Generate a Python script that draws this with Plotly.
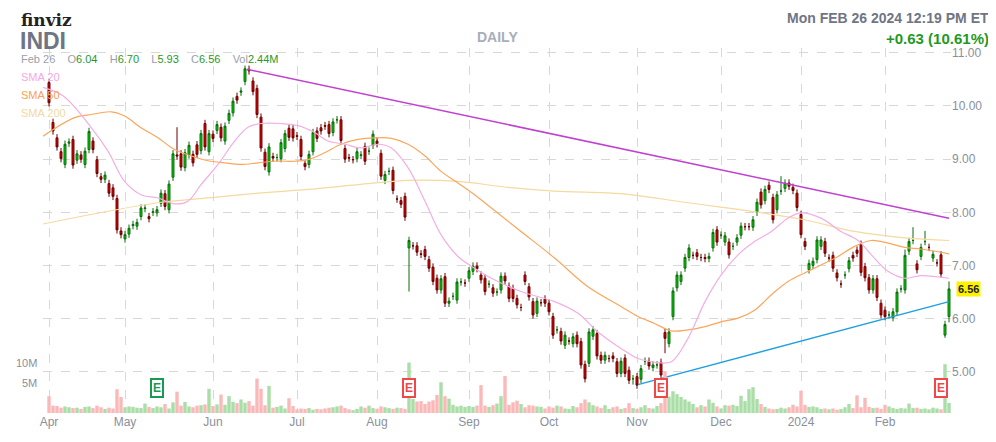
import plotly.graph_objects as go

# trading days per month, Apr 2023 .. Feb 26 2024
months = ["Apr", "May", "Jun", "Jul", "Aug", "Sep", "Oct", "Nov", "Dec", "2024", "Feb"]
month_days = [19, 22, 21, 20, 23, 20, 22, 21, 20, 21, 17]

opens = [
    10.44, 9.69, 9.40, 9.14, 8.90, 9.30, 9.37, 8.98, 9.08, 8.90, 9.18, 9.34, 8.99, 8.67, 8.62, 8.54, 8.46, 8.26, 7.65,
    7.50, 7.59, 7.75, 7.74, 7.92, 8.07, 7.92, 8.00, 7.99, 8.17, 8.35, 8.05, 8.66, 9.08, 9.10, 8.84, 9.08, 9.09, 9.27, 9.16, 9.67, 9.14,
    9.47, 9.54, 9.60, 9.34, 9.73, 9.87, 10.18, 10.26, 10.46, 10.69, 10.47, 10.33, 9.79, 9.13, 8.76, 9.05, 9.03, 9.01, 9.20, 9.58, 9.57,
    9.44, 9.37, 8.92, 8.90, 9.14, 9.53, 9.59, 9.63, 9.65, 9.50, 9.74, 9.74, 9.20, 9.03, 8.99, 9.01, 9.07, 9.24, 9.15, 9.26,
    9.34, 9.11, 8.60, 8.77, 8.79, 8.25, 8.22, 8.30, 7.33, 7.37, 7.37, 7.22, 7.30, 7.11, 6.97, 6.76, 6.54, 6.79, 6.29, 6.42, 6.35, 6.69, 6.67,
    6.76, 6.89, 6.99, 6.82, 6.76, 6.65, 6.58, 6.50, 6.54, 6.80, 6.61, 6.57, 6.38, 6.21, 6.82, 6.60, 6.32, 6.10, 6.30, 6.37,
    6.29, 6.04, 5.79, 5.76, 5.50, 5.58, 5.53, 5.69, 5.57, 5.14, 5.16, 5.67, 5.72, 5.31, 5.22, 5.25, 5.30, 5.19, 4.97, 5.26, 5.03, 4.87,
    4.91, 4.86, 5.20, 5.20, 5.08, 5.13, 5.18, 5.74, 5.53, 6.04, 6.58, 6.70, 6.95, 7.15, 7.19, 7.24, 7.15, 7.15, 7.13, 7.33, 7.67,
    7.57, 7.44, 7.44, 7.36, 7.44, 7.57, 7.73, 7.73, 7.72, 8.00, 8.38, 8.22, 8.51, 8.28, 8.05, 8.40, 8.45, 8.55, 8.47, 8.36,
    7.96, 7.45, 6.92, 7.00, 7.11, 7.36, 7.45, 7.14, 7.19, 6.86, 6.65, 6.82, 6.94, 7.19, 7.29, 7.40, 6.98, 6.77, 6.54, 6.75, 6.29,
    6.16, 6.07, 6.02, 6.13, 6.56, 6.54, 7.27, 7.47, 7.03, 7.17, 7.45, 7.34, 7.14, 7.05, 7.20, 5.69, 6.04,
]
closes = [
    10.06, 9.53, 9.23, 9.01, 9.28, 9.32, 8.89, 9.10, 9.00, 9.15, 9.52, 9.18, 8.73, 8.62, 8.70, 8.36, 8.30, 7.67, 7.58,
    7.58, 7.70, 7.77, 7.81, 8.08, 8.08, 7.88, 8.01, 8.05, 8.36, 8.11, 8.53, 9.10, 9.06, 8.85, 9.12, 9.26, 8.93, 9.09, 9.48, 9.23, 9.48,
    9.39, 9.65, 9.40, 9.62, 9.86, 10.09, 10.11, 10.28, 10.70, 10.66, 10.27, 9.84, 9.21, 8.86, 9.23, 9.02, 9.03, 9.31, 9.48, 9.41, 9.40,
    9.43, 9.05, 8.86, 9.09, 9.50, 9.39, 9.53, 9.62, 9.48, 9.70, 9.74, 9.35, 9.00, 9.02, 8.99, 9.14, 9.08, 8.96, 9.15, 9.47,
    9.29, 8.68, 8.71, 8.77, 8.41, 8.25, 8.15, 7.91, 7.47, 7.37, 7.25, 7.21, 7.17, 6.95, 6.70, 6.54, 6.75, 6.29, 6.33, 6.42, 6.69, 6.69, 6.67,
    6.90, 6.99, 6.94, 6.73, 6.51, 6.65, 6.48, 6.50, 6.80, 6.71, 6.38, 6.38, 6.26, 6.21, 6.70, 6.41, 6.07, 6.33, 6.30, 6.29,
    6.13, 5.69, 5.79, 5.58, 5.69, 5.58, 5.66, 5.53, 5.13, 4.87, 5.75, 5.79, 5.30, 5.22, 5.31, 5.25, 5.25, 4.97, 5.20, 4.97, 4.84, 4.87,
    4.75, 5.06, 5.20, 5.11, 5.13, 5.13, 4.94, 5.63, 5.75, 6.52, 6.82, 6.82, 7.15, 7.33, 7.19, 7.17, 7.15, 7.13, 7.17, 7.62, 7.44,
    7.57, 7.56, 7.20, 7.36, 7.52, 7.74, 7.73, 7.73, 7.86, 8.19, 8.14, 8.43, 8.43, 7.86, 8.33, 8.40, 8.55, 8.49, 8.41, 8.09,
    7.58, 7.36, 7.04, 7.08, 7.48, 7.48, 7.23, 7.14, 6.95, 6.77, 6.65, 6.82, 7.09, 7.14, 7.23, 6.87, 6.77, 6.54, 6.75, 6.40, 6.07,
    6.04, 6.07, 6.13, 6.50, 6.56, 7.19, 7.45, 7.47, 6.92, 7.34, 7.45, 7.34, 7.21, 7.05, 6.84, 5.89, 6.56,
]
# notable wick extremes (index: value)
high_extra = {32: 9.60, 49: 10.76, 183: 8.68, 225: 6.70, 214: 7.30, 216: 7.72, 219: 7.65}
low_extra = {90: 6.51, 154: 5.35, 224: 5.64, 225: 5.93, 134: 4.80, 146: 4.76}

volumes = [
    4.1, 1.8, 1.7, 1.3, 1.6, 1.4, 1.2, 1.3, 1.0, 1.5, 1.6, 1.2, 1.8, 1.4, 1.0, 1.3, 1.1, 5.8, 3.9,
    1.4, 1.6, 1.5, 1.3, 1.2, 2.3, 1.5, 1.2, 1.6, 1.4, 2.2, 1.1, 2.6, 5.2, 1.8, 2.7, 1.6, 1.4, 1.8, 1.9, 2.1, 5.9,
    1.7, 2.1, 4.5, 2.0, 4.1, 2.7, 2.4, 3.3, 2.5, 2.9, 1.8, 8.4, 5.9, 1.9, 6.6, 1.3, 1.5, 1.8, 1.1, 3.6, 1.7,
    0.9, 1.1, 1.0, 1.2, 0.8, 1.0, 0.9, 1.1, 1.3, 1.4, 1.6, 1.8, 1.2, 0.9, 0.7, 1.0, 1.6, 1.3, 1.8, 1.2,
    1.0, 1.6, 1.4, 1.2, 1.0, 1.3, 1.2, 1.0, 12.3, 3.4, 2.8, 2.9, 2.2, 2.8, 3.1, 4.4, 7.5, 4.1, 3.5, 2.0, 1.6, 1.8, 1.5,
    1.7, 1.5, 1.8, 6.8, 1.8, 1.5, 1.9, 2.3, 4.1, 9.0, 2.0, 2.6, 3.0, 2.2, 1.4, 1.9, 1.8, 1.6, 1.5, 1.1,
    1.6, 1.3, 1.8, 1.6, 1.1, 1.0, 1.7, 1.4, 2.4, 3.3, 2.6, 1.9, 1.6, 1.2, 1.9, 1.0, 1.4, 1.6, 1.0, 1.2, 2.4, 1.2,
    1.0, 1.4, 1.9, 1.2, 1.1, 1.7, 2.4, 10.2, 4.0, 5.3, 4.6, 3.9, 3.3, 2.8, 2.2, 1.4, 1.9, 1.6, 3.3, 2.5, 1.6,
    1.1, 1.9, 1.8, 2.0, 1.7, 4.2, 2.9, 5.8, 6.3, 3.4, 2.2, 1.5, 1.1, 0.9, 1.0, 1.3, 1.1, 1.4, 2.0, 1.6,
    5.4, 2.0, 1.5, 1.6, 1.4, 1.0, 1.1, 0.9, 1.1, 0.8, 1.0, 1.4, 2.2, 1.2, 4.3, 1.4, 3.7, 1.5, 1.2, 1.3, 1.0,
    2.0, 1.6, 1.2, 1.0, 1.2, 1.1, 2.3, 1.2, 1.3, 1.0, 1.1, 0.9, 1.3, 1.1, 0.9, 11.9, 2.44,
]

# moving averages: (day index, value)
sma20 = [(-1.5, 10.35), (3.5, 10.19), (10.6, 9.59), (14.75, 9.15), (18.9, 8.58), (23, 8.33), (27.25, 8.27),
         (31.4, 8.16), (34.75, 8.21), (38, 8.52), (42.25, 8.90), (46.4, 9.34), (49.75, 9.60), (53, 9.67),
         (58, 9.67), (62.25, 9.63), (66.4, 9.50), (69.75, 9.34), (74, 9.28), (78, 9.21), (82.25, 9.28),
         (85.6, 9.21), (89.75, 8.84), (94, 8.21), (98, 7.58), (102.25, 7.17), (106.4, 6.95), (110.6, 6.76),
         (118, 6.51), (126.4, 6.32), (132.25, 6.10), (137.25, 5.75), (143, 5.44), (147.25, 5.25),
         (151.4, 5.18), (155.6, 5.19), (159.75, 5.63), (164, 6.32), (168, 6.82), (172.25, 7.20),
         (176.4, 7.45), (180.6, 7.64), (184.75, 7.89), (188, 7.99), (193, 7.89), (198, 7.64),
         (202.25, 7.47), (205.6, 7.20), (209.75, 6.89), (214, 6.76), (218, 6.81), (225, 6.76)]
sma50 = [(-1.5, 9.43), (6.4, 9.78), (10.6, 9.84), (15.6, 9.89), (18.9, 9.81), (23, 9.59), (27.25, 9.40),
         (31.4, 9.18), (35.6, 9.06), (39.75, 8.97), (43.9, 8.93), (48, 8.90), (52.25, 8.93), (56.4, 8.96),
         (61.4, 8.96), (64.75, 8.99), (68.9, 9.12), (73, 9.28), (77.25, 9.37), (81.4, 9.40), (85.6, 9.39),
         (89.75, 9.28), (94, 9.06), (98, 8.77), (102.25, 8.55), (106.4, 8.33), (110.6, 8.08),
         (118, 7.64), (126.4, 7.14), (134.75, 6.60), (143, 6.23), (147.25, 6.04), (151.4, 5.91),
         (155.6, 5.77), (159.75, 5.79), (164, 5.85), (168, 5.94), (172.25, 6.01), (176.4, 6.16),
         (180.6, 6.45), (184.75, 6.70), (188.9, 6.86), (193, 7.01), (197.25, 7.17), (201.4, 7.36),
         (205.6, 7.47), (209.75, 7.42), (214, 7.34), (218, 7.31), (225, 7.22)]
sma200 = [(-1.5, 7.78), (14.75, 8.02), (27.25, 8.18), (39.75, 8.27), (52.25, 8.36), (64.75, 8.43),
          (77.25, 8.52), (89.75, 8.60), (102.25, 8.58), (114.75, 8.47), (126.4, 8.40), (143, 8.35),
          (151.4, 8.27), (159.75, 8.18), (176.4, 8.01), (188.9, 7.86), (201.4, 7.64), (214, 7.52),
          (225, 7.47)]
resistance = [(49.5, 10.69), (225, 7.89)]
support = [(147.25, 4.76), (225, 6.32)]
earnings = [(27, "beat"), (90, "miss"), (153, "miss"), (223, "miss")]

n = len(closes)
x = list(range(n))
highs = [high_extra.get(i, max(opens[i], closes[i]) + 0.07) for i in x]
lows = [low_extra.get(i, min(opens[i], closes[i]) - 0.07) for i in x]
month_start = [sum(month_days[:k]) for k in range(len(month_days))]

GREEN, RED = "#00d200", "#e00000"
fig = go.Figure()

vol_colors = ["#a9dea6" if closes[i] >= opens[i] else "#fab8b8" for i in x]
fig.add_trace(go.Bar(x=x, y=volumes, marker_color=vol_colors, marker_line_width=0,
                     width=0.85, yaxis="y2", hoverinfo="skip"))

for pts, col in [(sma200, "#f5d9a0"), (sma50, "#fca65c"), (sma20, "#f3aee4")]:
    fig.add_trace(go.Scatter(x=[p[0] for p in pts], y=[p[1] for p in pts], mode="lines",
                             line=dict(color=col, width=1.2, shape="spline"), hoverinfo="skip"))

for pts, col in [(resistance, "#c040d0"), (support, "#1ea0e0")]:
    fig.add_trace(go.Scatter(x=[p[0] for p in pts], y=[p[1] for p in pts], mode="lines",
                             line=dict(color=col, width=1.5), hoverinfo="skip"))

fig.add_trace(go.Candlestick(
    x=x, open=opens, high=highs, low=lows, close=closes, whiskerwidth=0,
    increasing=dict(fillcolor=GREEN, line=dict(color="#0a6b0a", width=1)),
    decreasing=dict(fillcolor=RED, line=dict(color="#6e0000", width=1)),
))

ann = []
for i, kind in earnings:
    c = "#1a9a50" if kind == "beat" else "#f04848"
    ann.append(dict(x=i, y=6, xref="x", yref="y2", text="<b>E</b>", showarrow=False,
                    font=dict(size=12, color=c, family="Arial"), bgcolor="white",
                    bordercolor=c, borderwidth=2, borderpad=1, yanchor="middle"))

grey = "#8a8f9c"


def top_text(xpos, xshift, yshift, text, size, color, anchor="left", family="Arial"):
    return dict(x=xpos, y=1.0, xref="paper", yref="paper", xshift=xshift, yshift=yshift, text=text,
                showarrow=False, xanchor=anchor, yanchor="middle",
                font=dict(size=size, color=color, family=family))


ann += [
    top_text(0, -24, 28, "<b>finviz</b>", 17, "#222", family="DejaVu Serif"),
    top_text(0, -25, 7, "<b>INDI</b>", 23, "#6f7585"),
    top_text(0.5, 0, 11, "<b>DAILY</b>", 14, "#a8adbb", anchor="center"),
    top_text(1, 40, 30, "<b>Mon FEB 26 2024 12:19 PM ET</b>", 14, "#6f7585", anchor="right"),
    top_text(1, 40, 10, "<b>+0.63 (10.61%)</b>", 15, "#1f9a1f", anchor="right"),
    top_text(0, -24, -11,
             ("<span style='color:#9aa0ad'>Feb 26</span>    <span style='color:#9aa0ad'>O</span>6.04    "
              "<span style='color:#9aa0ad'>H</span>6.70    <span style='color:#9aa0ad'>L</span>5.93    "
              "<span style='color:#9aa0ad'>C</span>6.56    <span style='color:#9aa0ad'>Vol</span>2.44M"),
             11, "#1f9a1f"),
]
for k, (lbl, col) in enumerate([("SMA 20", "#f5a8e6"), ("SMA 50", "#fb9f52"), ("SMA 200", "#f3d9a2")]):
    ann.append(top_text(0, -24, -29 - 18 * k, lbl, 11, col))
ann.append(dict(x=1, y=closes[-1], xref="paper", yref="y", xshift=17, text="<b>6.56</b>", showarrow=False,
                xanchor="center", bgcolor="#fff200", font=dict(size=11, color="#222", family="Arial")))
for v, lbl in [(10, "10M"), (5, "5M")]:
    ann.append(dict(x=0, y=v, xref="paper", yref="y2", xshift=-4, yshift=9, text=lbl, showarrow=False,
                    xanchor="right", font=dict(size=11, color=grey, family="Arial")))

fig.update_layout(
    width=996, height=442, margin=dict(l=35, r=53, t=40, b=37),
    paper_bgcolor="white", plot_bgcolor="white", showlegend=False, annotations=ann,
    xaxis=dict(range=[-1.5, 225.5], tickmode="array", tickvals=month_start, ticktext=months,
               showgrid=True, gridcolor="#d8d8d8", griddash="dash", zeroline=False,
               rangeslider=dict(visible=False), tickfont=dict(size=12, color=grey, family="Arial"),
               ticks="", showline=False),
    yaxis=dict(range=[4.226, 11.09], side="right", dtick=1, tickformat=".2f", showgrid=True,
               gridcolor="#d8d8d8", griddash="dash", zeroline=False,
               tickfont=dict(size=12, color=grey, family="Arial")),
    yaxis2=dict(range=[0, 89], overlaying="y", showgrid=False, showticklabels=False, zeroline=False),
)
fig.write_html("out.html")
